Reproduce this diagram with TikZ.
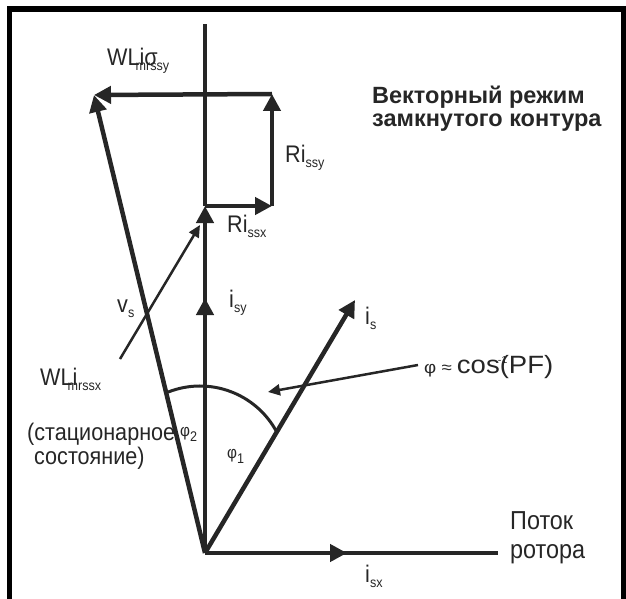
\documentclass[tikz,border=0pt]{standalone}
\usepackage{fontspec}
\setmainfont{Liberation Sans}[FakeStretch=0.9]
\newfontfamily\titlefont{Liberation Sans}
\newfontfamily\widefont{Liberation Sans}[FakeStretch=1.1]
\usetikzlibrary{arrows.meta}
\definecolor{Ink}{HTML}{262626}
\newcommand{\lsub}[1]{\raisebox{-5pt}{\fontsize{14}{14}\selectfont #1}}

\begin{document}
\begin{tikzpicture}[x=1pt,y=-1pt,
  vec/.style={Ink,line width=4.5pt,-{Triangle[length=17pt,width=17pt]}},
  pointer/.style={Ink,line width=2.5pt,-{Triangle[length=12pt,width=11pt]}},
  guide/.style={Ink,line width=3.5pt},
  lbl/.style={Ink,anchor=base west,inner sep=0pt,font=\fontsize{24}{24}\selectfont},
  anglbl/.style={lbl,font=\fontsize{17}{17}\selectfont}]
  \useasboundingbox (0,0) rectangle (626,599);
  \clip (0,0) rectangle (626,599);
  \draw[line width=5.5pt] (9.5,9) rectangle (623.5,640);
  % points of the diagram (pixel grid, y downwards)
  \coordinate (O) at (205,553);
  \coordinate (top) at (205,24);
  \coordinate (A) at (205,206);
  \coordinate (B) at (272,206);
  \coordinate (C) at (272,94);
  \coordinate (D) at (94,95);
  \coordinate (S) at (355,300);
  \coordinate (flux) at (498,553);
  \coordinate (isxmid) at (347,553);
  \coordinate (isymid) at (205,298);
  \coordinate (vsfoot) at (120,359);
  \coordinate (vstip) at (200,225);
  \coordinate (phifoot) at (418,365);
  \coordinate (phitip) at (268,392);
  \coordinate (arcc) at (200,473);

  \draw[guide] (A) -- (top);
  \draw[vec,-] (O) -- (flux);
  \draw[vec] (O) -- (isxmid);
  \draw[vec] (O) -- (A);
  \draw[vec] (O) -- (isymid);
  \draw[vec] (A) -- (B);
  \draw[vec] (B) -- (C);
  \draw[vec] (C) -- (D);
  \draw[vec] (O) -- (D);
  \draw[vec] (O) -- (S);
  \draw[pointer] (vsfoot) -- (vstip);
  \draw[pointer] (phifoot) -- (phitip);
  \draw[Ink,line width=3pt] (arcc) ++(-111.6:87) arc[start angle=-111.6,end angle=-28,radius=87];

  % labels (multi-line nodes sit on the baseline of their last line)
  \node[lbl] (wly) at (107,66) {WL\rlap{\kern-4pt\lsub{mrssy}}iσ};
  \node[lbl] (rssy) at (285,162) {Ri\lsub{ssy}};
  \node[lbl] (rssx) at (227,232) {Ri\lsub{ssx}};
  \node[lbl] (vs) at (117,312) {v\lsub{s}};
  \node[lbl] (isy) at (229,307) {i\lsub{sy}};
  \node[lbl] (is) at (365,324) {i\lsub{s}};
  \node[lbl,font=\widefont\fontsize{25}{25}\selectfont] (pf) at (424,373) {{\fontsize{17}{17}\selectfont φ ≈ }cos\rlap{\kern-2pt\raisebox{10pt}{\fontsize{10}{10}\selectfont -1}}(PF)};
  \node[lbl] (wlx) at (40,385) {WL\rlap{\kern-5pt\lsub{mrssx}}i};
  \node[lbl,align=left] (steady) at (27,464) {(стационарное\\\hspace*{7pt}состояние)};
  \node[anglbl] (phi2) at (180,436) {φ\lsub{2}};
  \node[anglbl] (phi1) at (227,458) {φ\lsub{1}};
  \node[lbl] (isx) at (365,582) {i\lsub{sx}};
  \node[lbl,align=left,font=\fontsize{26}{29}\selectfont] (rotor) at (510,558) {Поток\\ротора};
  \node[Ink,anchor=base west,inner sep=0pt,align=left,font=\titlefont\bfseries\fontsize{23.5}{24}\selectfont] (title) at (372,127) {Векторный режим\\замкнутого контура};
\end{tikzpicture}
\end{document}
